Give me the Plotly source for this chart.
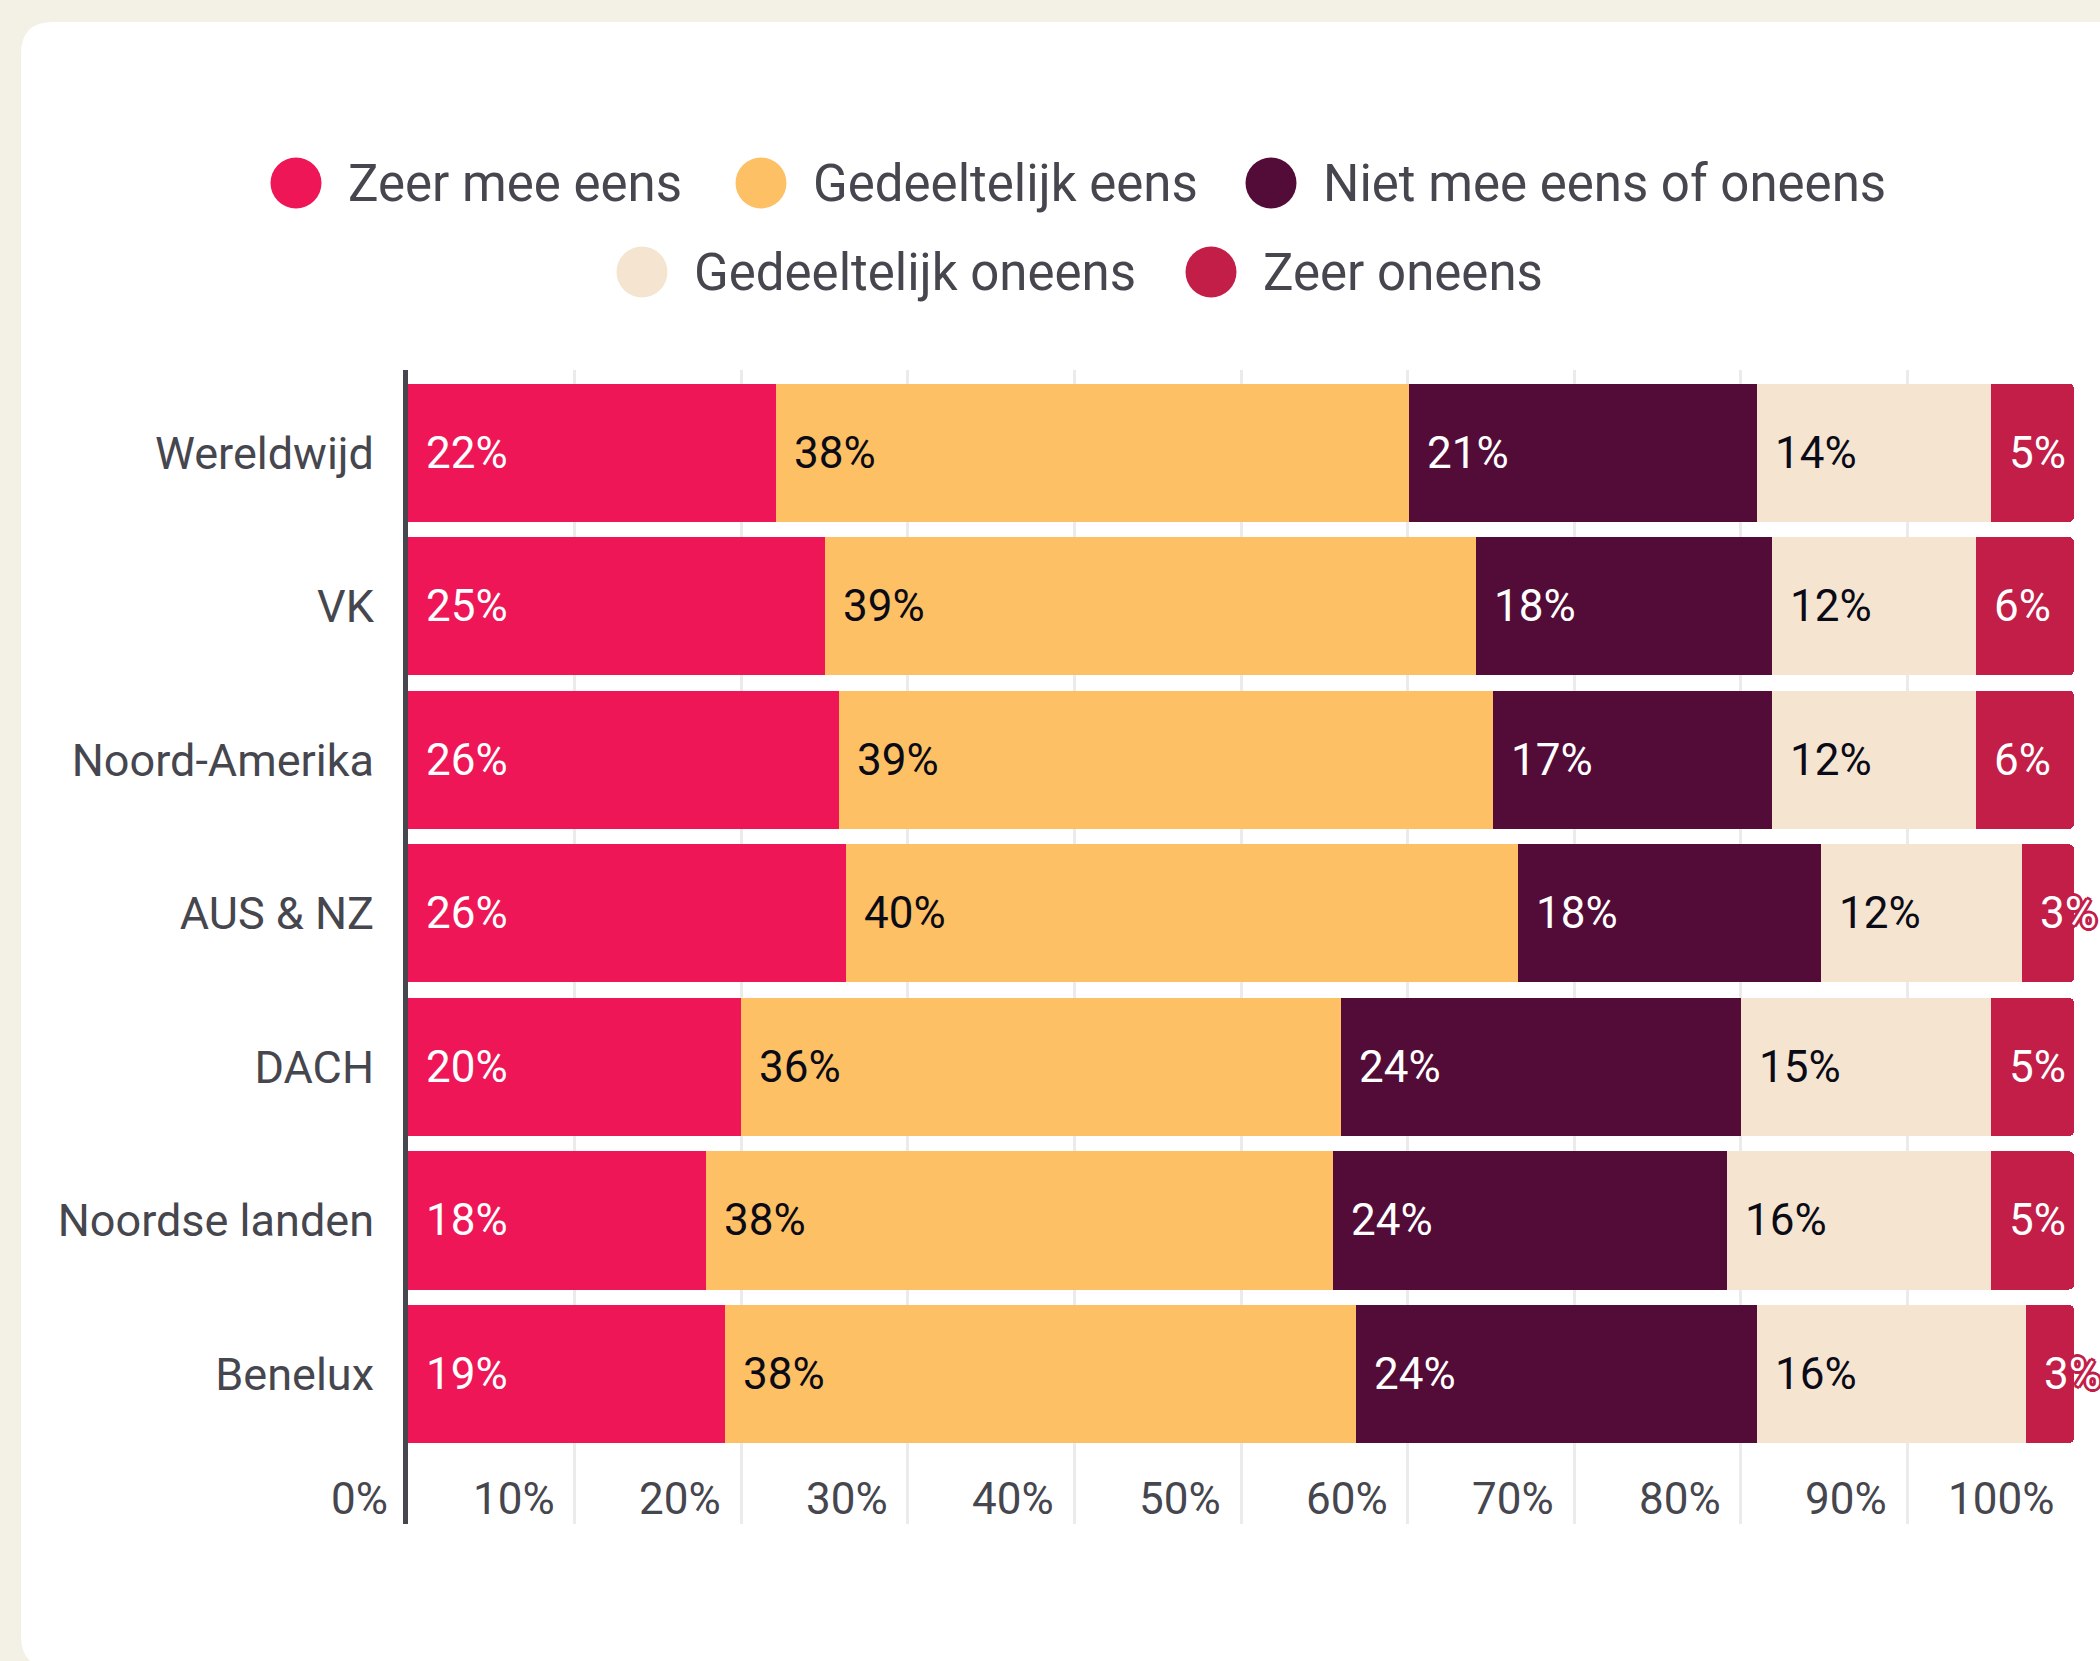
import plotly.graph_objects as go

# ---------------- data ----------------
regions = ["Wereldwijd", "VK", "Noord-Amerika", "AUS & NZ", "DACH", "Noordse landen", "Benelux"]
series_names = ["Zeer mee eens", "Gedeeltelijk eens", "Niet mee eens of oneens",
                "Gedeeltelijk oneens", "Zeer oneens"]
zeer_mee_eens = [22.1, 25.0, 25.9, 26.3, 20.0, 17.9, 19.0]
gedeeltelijk_eens = [38.0, 39.1, 39.2, 40.3, 36.0, 37.6, 37.9]
neutraal = [20.9, 17.8, 16.8, 18.2, 24.0, 23.7, 24.1]
gedeeltelijk_oneens = [14.0, 12.2, 12.2, 12.1, 15.0, 15.8, 16.1]
zeer_oneens = [5.0, 5.9, 5.9, 3.1, 5.0, 5.0, 2.9]
tick_values = [0, 10, 20, 30, 40, 50, 60, 70, 80, 90, 100]
tick_labels = ["0%", "10%", "20%", "30%", "40%", "50%", "60%", "70%", "80%", "90%", "100%"]

# ---------------- styles ----------------
series_values = [zeer_mee_eens, gedeeltelijk_eens, neutraal, gedeeltelijk_oneens, zeer_oneens]
colors = ["#ee1656", "#fdc064", "#530c38", "#f5e5d0", "#c21e48"]
label_colors = ["#ffffff", "#0b0b18", "#ffffff", "#0b0b18", "#ffffff"]
TEXT = "#46464e"
FONT = "Roboto"

W, H = 2100, 1661
ML, MR, MT, MB = 408, 26, 370, 137
PW, PH = W - ML - MR, H - MT - MB


def px_x(px):
    return (px - ML) / PW


def px_y(py):
    return (H - MB - py) / PH


fig = go.Figure()
for name, vals, col in zip(series_names, series_values, colors):
    fig.add_trace(go.Bar(
        y=regions, x=vals, name=name, orientation="h",
        marker=dict(color=col, line=dict(width=0)),
        showlegend=False, hoverinfo="x+y+name",
    ))

annotations = []
shapes = []

# bar value labels
starts = [0.0] * len(regions)
for i, vals in enumerate(series_values):
    font = dict(family=FONT, size=44, color=label_colors[i])
    if i == len(series_values) - 1:
        c = colors[i]
        font["shadow"] = ", ".join(f"{dx}px {dy}px 0 {c}" for dx, dy in
                                   [(2, 0), (-2, 0), (0, 2), (0, -2), (2, 2), (-2, -2), (2, -2), (-2, 2),
                                    (3, 0), (-3, 0), (0, 3), (0, -3)])
    for j, v in enumerate(vals):
        annotations.append(dict(
            x=starts[j], y=regions[j], xref="x", yref="y",
            text=f"{round(v)}%", showarrow=False, xanchor="left", yanchor="middle",
            xshift=16, font=font,
        ))
        starts[j] += v

# x tick labels (drawn left of each gridline)
for tv, tl in zip(tick_values, tick_labels):
    annotations.append(dict(
        x=tv, y=px_y(1499), xref="x", yref="paper", text=tl, showarrow=False,
        xanchor="right", yanchor="middle", xshift=-18,
        font=dict(family=FONT, size=44, color=TEXT),
    ))

# custom legend (large circles)
legend_pos = [(296, 183), (761, 183), (1271, 183), (642, 272), (1211, 272)]
for name, col, (cx, cy) in zip(series_names, colors, legend_pos):
    shapes.append(dict(
        type="circle", xref="paper", yref="paper", xsizemode="pixel", ysizemode="pixel",
        xanchor=px_x(cx), yanchor=px_y(cy), x0=-25.5, x1=25.5, y0=-25.5, y1=25.5,
        fillcolor=col, line=dict(width=0), layer="above",
    ))
    annotations.append(dict(
        x=px_x(cx + 50), y=px_y(cy), xref="paper", yref="paper", text=name,
        showarrow=False, xanchor="left", yanchor="middle",
        font=dict(family=FONT, size=51, color=TEXT),
    ))

# white card
L, T, R, B, RAD = 21, 22, 2140, 1668, 32
path = (f"M {px_x(L + RAD)},{px_y(T)} L {px_x(R)},{px_y(T)} L {px_x(R)},{px_y(B)} "
        f"L {px_x(L + RAD)},{px_y(B)} Q {px_x(L)},{px_y(B)} {px_x(L)},{px_y(B - RAD)} "
        f"L {px_x(L)},{px_y(T + RAD)} Q {px_x(L)},{px_y(T)} {px_x(L + RAD)},{px_y(T)} Z")
shapes.insert(0, dict(type="path", path=path, xref="paper", yref="paper",
                      fillcolor="#ffffff", line=dict(width=0), layer="below"))

fig.update_layout(
    width=W, height=H,
    margin=dict(l=ML, r=MR, t=MT, b=MB, pad=0),
    paper_bgcolor="#f3f0e5", plot_bgcolor="rgba(0,0,0,0)",
    barmode="stack", bargap=0.1, barcornerradius=5,
    font=dict(family=FONT, color=TEXT),
    xaxis=dict(range=[0, 100], tickvals=tick_values, showticklabels=False,
               showgrid=True, gridcolor="#ebebeb", gridwidth=3,
               zeroline=False, showline=False, ticks="", fixedrange=True),
    yaxis=dict(categoryorder="array", categoryarray=regions,
               range=[6.977, -0.539], showgrid=False, zeroline=False,
               showline=True, linecolor="#46464e", linewidth=5,
               ticks="", ticklabelstandoff=20,
               tickfont=dict(family=FONT, size=45, color=TEXT), fixedrange=True),
    annotations=annotations, shapes=shapes, showlegend=False,
)

fig.write_html("out.html", config={"displayModeBar": False},
               post_script="document.body.style.margin='0';")
